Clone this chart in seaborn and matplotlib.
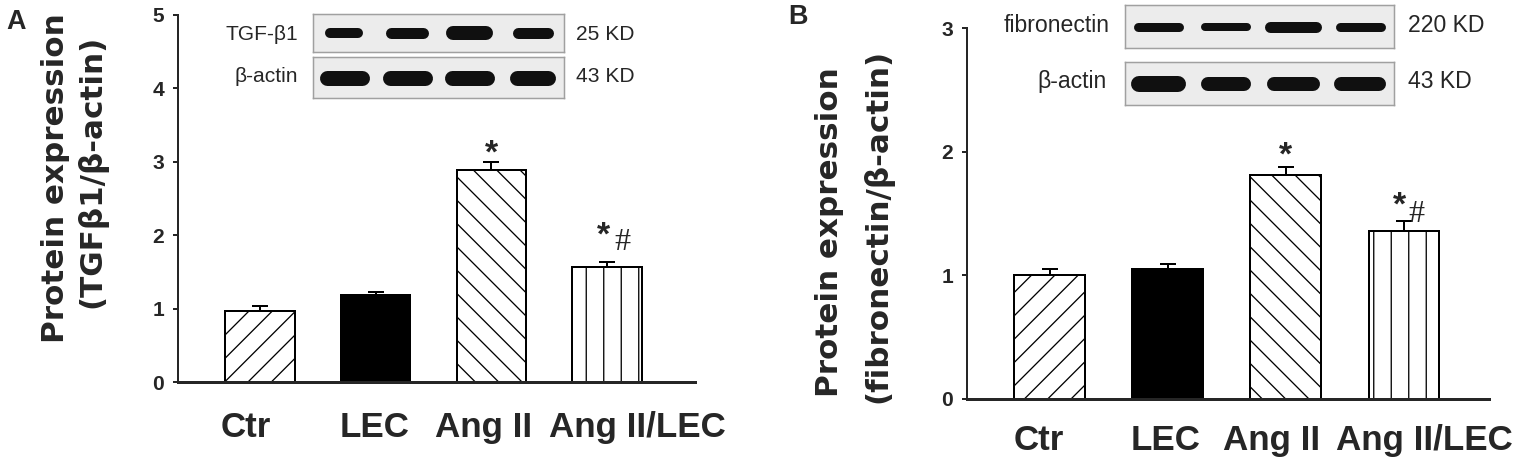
import numpy as np
import pandas as pd
import matplotlib
matplotlib.use("Agg")
import matplotlib.pyplot as plt
import seaborn as sns

# Values (mean and SEM, relative to control)
groups = ['Ctr', 'LEC', 'Ang II', 'Ang II/LEC']
tgf_mean = [0.97, 1.19, 2.89, 1.56]
tgf_sem = [0.07, 0.04, 0.11, 0.07]
fn_mean = [1.00, 1.05, 1.81, 1.36]
fn_sem = [0.05, 0.04, 0.07, 0.08]
tgf_ticks = [0, 1, 2, 3, 4, 5]
fn_ticks = [0, 1, 2, 3]
star_marks = ['', '', '*', '*']
hash_marks = ['', '', '', '#']

# western blot band sizes (px length, px thickness) per lane
tgf_band_len = [38, 43, 47, 41]
tgf_band_thick = [10, 11, 14, 11]
actinA_band_len = [50, 50, 50, 46]
actinA_band_thick = [15, 15, 15, 15]
fn_band_len = [50, 50, 57, 50]
fn_band_thick = [9, 8, 11, 9]
actinB_band_len = [55, 50, 53, 52]
actinB_band_thick = [16, 14, 14, 14]

DPI = 210
W, H = 1525, 465


def px(v):
    # pixels -> points at the chosen dpi
    return v * 72 / DPI


def rect(x0, y0, x1, y1):
    return [x0 / W, 1 - y1 / H, (x1 - x0) / W, (y1 - y0) / H]


sns.set_style("ticks")
plt.rcParams['font.family'] = ['Liberation Sans', 'DejaVu Sans']
plt.rcParams['hatch.linewidth'] = px(1.3)
plt.rcParams['hatch.color'] = 'black'

fills = ['white', 'black', 'white', 'white']
hatches = ['///', '', '\\\\\\', '||']
narrow = ['Liberation Sans Narrow', 'Liberation Sans', 'DejaVu Sans']

fig = plt.figure(figsize=(W / DPI, H / DPI), dpi=DPI)


def draw_bars(ax, mean, sem, ticks, xlim, star_off, hash_off, lab_dx, lab_pad):
    df = pd.DataFrame({'group': groups, 'value': mean})
    sns.barplot(data=df, x='group', y='value', order=groups, color='white',
                edgecolor='black', linewidth=px(2), width=0.6, errorbar=None,
                saturation=1, ax=ax)
    for patch, fc, h in zip(ax.patches, fills, hatches):
        patch.set_facecolor(fc)
        patch.set_hatch(h)
    x = np.arange(len(groups))
    ax.errorbar(x, mean, yerr=[np.zeros(len(x)), sem], fmt='none', ecolor='black',
                elinewidth=px(2), capsize=px(8), capthick=px(2), zorder=3)
    tops = np.array(mean) + np.array(sem)
    for i, (s, hm) in enumerate(zip(star_marks, hash_marks)):
        if s and not hm:
            ax.annotate(s, (i, tops[i]), xytext=(0, px(star_off[0])), textcoords='offset points',
                        ha='center', va='center', fontsize=px(34), fontweight='bold')
        elif s:
            ax.annotate(s, (i, tops[i]), xytext=(px(-4), px(star_off[1])), textcoords='offset points',
                        ha='center', va='center', fontsize=px(34), fontweight='bold')
            ax.annotate(hm, (i, tops[i]), xytext=(px(hash_off[0]), px(hash_off[1])),
                        textcoords='offset points', ha='center', va='center',
                        fontsize=px(32), family=['Liberation Serif', 'DejaVu Serif'])
    ax.set_xlim(*xlim)
    ax.set_ylim(0, ticks[-1])
    ax.set_yticks(ticks)
    ax.set_xlabel('')
    ax.set_ylabel('')
    sns.despine(ax=ax)
    ax.spines['left'].set_linewidth(px(2))
    ax.spines['bottom'].set_linewidth(px(3))
    ax.tick_params(axis='y', direction='out', length=px(5), width=px(2), pad=px(9))
    ax.tick_params(axis='x', length=0, labelbottom=False)
    for t in ax.get_yticklabels():
        t.set_fontsize(px(21))
        t.set_fontweight('bold')
        t.set_family(narrow)
    # group names under the bars (hand-placed like the original figure)
    for i, (g, dx) in enumerate(zip(groups, lab_dx)):
        ax.annotate(g, (i, 0), xytext=(px(dx), -px(lab_pad)), textcoords='offset points',
                    ha='center', va='top', fontsize=px(35), fontweight='bold',
                    annotation_clip=False)


def draw_blot(box, lens, thicks):
    x0, y0, x1, y1 = box
    bx = fig.add_axes(rect(x0, y0, x1, y1))
    bx.set_facecolor('#ececec')
    bx.set_xlim(-0.5, 3.5)
    bx.set_ylim(0, 1)
    lane_px = (x1 - x0) / 4
    for i, (L, t) in enumerate(zip(lens, thicks)):
        half = max(L - t, 2) / 2 / lane_px
        bx.plot([i - half, i + half], [0.5, 0.5], color='#101010', lw=px(t),
                solid_capstyle='round')
    bx.set_xticks([])
    bx.set_yticks([])
    for sp in bx.spines.values():
        sp.set_color('#a0a0a0')
        sp.set_linewidth(px(1.5))


def label(x, y, s, ha, size):
    fig.text(x / W, 1 - y / H, s, ha=ha, va='center', fontsize=px(size), family=narrow)


# ---- panel A ----
axA = fig.add_axes(rect(178, 15, 695, 382))
draw_bars(axA, tgf_mean, tgf_sem, tgf_ticks, (-0.71, 3.76), (8, 26), (15, 20),
          [-14, -1, -8, 30], 29)
draw_blot((313, 14, 564, 52), tgf_band_len, tgf_band_thick)
draw_blot((313, 57, 564, 98), actinA_band_len, actinA_band_thick)
label(298, 34, 'TGF-β1', 'right', 21)
label(298, 77, 'β-actin', 'right', 21)
label(576, 34, '25 KD', 'left', 21)
label(576, 77, '43 KD', 'left', 21)

# ---- panel B ----
axB = fig.add_axes(rect(967, 28, 1489, 399))
draw_bars(axB, fn_mean, fn_sem, fn_ticks, (-0.70, 3.72), (10, 15), (12, 6),
          [-11, -2, -14, 20], 25)
draw_blot((1125, 5, 1394, 48), fn_band_len, fn_band_thick)
draw_blot((1125, 62, 1394, 105), actinB_band_len, actinB_band_thick)
label(1110, 25, 'fibronectin', 'right', 23)
label(1107, 82, 'β-actin', 'right', 23)
label(1408, 25, '220 KD', 'left', 23)
label(1408, 82, '43 KD', 'left', 23)

# y axis titles and panel letters
ylab = dict(rotation=90, ha='center', va='center', fontsize=px(31),
            fontweight='bold', family=['DejaVu Sans'])
fig.text(55 / W, 1 - 178 / H, 'Protein expression', **ylab)
fig.text(92 / W, 1 - 171 / H, '(TGFβ1/β-actin)', **ylab)
fig.text(830 / W, 1 - 232 / H, 'Protein expression', **ylab)
fig.text(878 / W, 1 - 226 / H, '(fibronectin/β-actin)', **ylab)
fig.text(16 / W, 1 - 22 / H, 'A', ha='center', va='center', fontsize=px(27), fontweight='bold')
fig.text(798 / W, 1 - 17 / H, 'B', ha='center', va='center', fontsize=px(27), fontweight='bold')

fig.savefig('out.png', dpi=DPI)
